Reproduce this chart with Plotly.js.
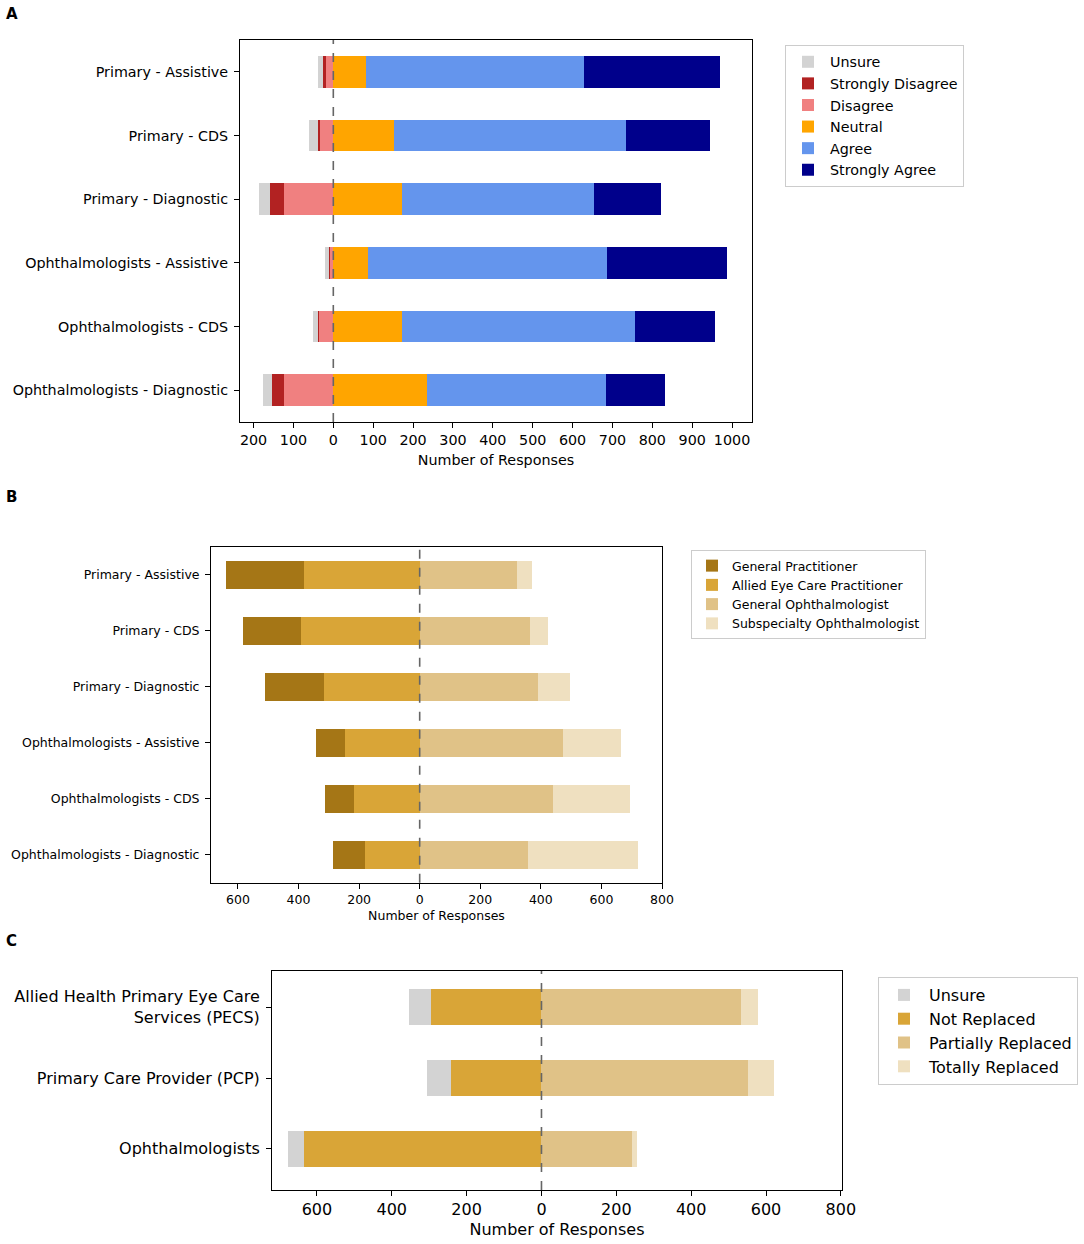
<!DOCTYPE html>
<html>
<head>
<meta charset="utf-8">
<script src="https://cdn.plot.ly/plotly-3.0.1.min.js"></script>
<style>body{margin:0;padding:0;background:#fff}#chart{width:1084px;height:1244px}</style>
</head>
<body>
<div id="chart"></div>
<script>
// ---------- Panel A data ----------
const catsA = ["Primary - Assistive","Primary - CDS","Primary - Diagnostic","Ophthalmologists - Assistive","Ophthalmologists - CDS","Ophthalmologists - Diagnostic"];
const unsureA   = [14, 22, 26, 9, 13, 23];
const strongDisA= [7, 5, 36, 3, 4, 29];
const disagreeA = [18, 33, 124, 8, 35, 124];
const neutralA  = [83, 152, 173, 88, 171, 236];
const agreeA    = [546, 582, 481, 598, 585, 448];
const strongAgA = [340, 210, 167, 301, 200, 147];
const tickValsA = [-200,-100,0,100,200,300,400,500,600,700,800,900,1000];
const tickTextA = ["200","100","0","100","200","300","400","500","600","700","800","900","1000"];

// ---------- Panel B data ----------
const catsB = catsA;
const gpB      = [256, 191, 195, 99, 93, 104];
const alliedB  = [382, 392, 317, 245, 218, 182];
const genOphB  = [320, 365, 389, 473, 441, 358];
const subOphB  = [51, 60, 107, 192, 253, 362];
const tickValsB = [-600,-400,-200,0,200,400,600,800];
const tickTextB = ["600","400","200","0","200","400","600","800"];

// ---------- Panel C data ----------
const catsC = ["Allied Health Primary Eye Care<br>Services (PECS)","Primary Care Provider (PCP)","Ophthalmologists"];
const unsureC   = [59, 65, 43];
const notRepC   = [294, 241, 634];
const partRepC  = [533, 551, 241];
const totRepC   = [45, 70, 13];
const tickValsC = tickValsB;
const tickTextC = tickTextB;

const neg = a => a.map(v => -v);
const font = "DejaVu Sans, sans-serif";

function bar(name, cats, vals, color, xa, ya, legend, rank, negSide) {
  return {
    type: "bar", orientation: "h", name: name,
    y: cats, x: negSide ? neg(vals) : vals,
    customdata: vals,
    marker: {color: color, line: {width: 0}},
    width: 0.5,
    xaxis: xa, yaxis: ya, legend: legend, legendrank: rank,
    hovertemplate: name + ": %{customdata}<extra></extra>"
  };
}

const data = [
  bar("Disagree", catsA, disagreeA, "#f08080", "x", "y", "legend", 3, true),
  bar("Strongly Disagree", catsA, strongDisA, "#b22222", "x", "y", "legend", 2, true),
  bar("Unsure", catsA, unsureA, "#d3d3d3", "x", "y", "legend", 1, true),
  bar("Neutral", catsA, neutralA, "#ffa500", "x", "y", "legend", 4, false),
  bar("Agree", catsA, agreeA, "#6495ed", "x", "y", "legend", 5, false),
  bar("Strongly Agree", catsA, strongAgA, "#00008b", "x", "y", "legend", 6, false),

  bar("Allied Eye Care Practitioner", catsB, alliedB, "#d9a537", "x2", "y2", "legend2", 2, true),
  bar("General Practitioner", catsB, gpB, "#a57616", "x2", "y2", "legend2", 1, true),
  bar("General Ophthalmologist", catsB, genOphB, "#e0c287", "x2", "y2", "legend2", 3, false),
  bar("Subspecialty Ophthalmologist", catsB, subOphB, "#efe0c0", "x2", "y2", "legend2", 4, false),

  bar("Not Replaced", catsC, notRepC, "#d9a537", "x3", "y3", "legend3", 2, true),
  bar("Unsure", catsC, unsureC, "#d3d3d3", "x3", "y3", "legend3", 1, true),
  bar("Partially Replaced", catsC, partRepC, "#e0c287", "x3", "y3", "legend3", 3, false),
  bar("Totally Replaced", catsC, totRepC, "#efe0c0", "x3", "y3", "legend3", 4, false)
];

function xAxis(domain, range, tv, tt, fs, anchor, standoff) {
  return {
    domain: domain, range: range, anchor: anchor,
    tickmode: "array", tickvals: tv, ticktext: tt,
    tickfont: {family: font, size: fs, color: "#000"},
    ticks: "outside", ticklen: 5, tickwidth: 1, tickcolor: "#000",
    showgrid: false, zeroline: false,
    showline: true, mirror: true, linecolor: "#000", linewidth: 1,
    automargin: false,
    title: {text: "Number of Responses", font: {family: font, size: fs, color: "#000"}, standoff: standoff}
  };
}
function yAxis(domain, cats, fs, anchor, range) {
  return {
    domain: domain, type: "category", categoryorder: "array", categoryarray: cats,
    range: range, anchor: anchor,
    tickfont: {family: font, size: fs, color: "#000"},
    ticks: "outside", ticklen: 5, tickwidth: 1, tickcolor: "#000",
    ticklabelstandoff: 3,
    showgrid: false, zeroline: false,
    showline: true, mirror: true, linecolor: "#000", linewidth: 1,
    automargin: false
  };
}
function zeroLine(xref, yref) {
  return {type: "line", xref: xref, yref: yref + " domain", x0: 0, x1: 0, y0: 0, y1: 1,
          line: {color: "#666", width: 1.6, dash: "dash"}, layer: "above"};
}
function legendBox(x, y, fs, iw) {
  return {x: x, y: y, xanchor: "left", yanchor: "top", xref: "paper", yref: "paper",
          bordercolor: "#cccccc", borderwidth: 1, bgcolor: "#fff",
          font: {family: font, size: fs, color: "#000"}, traceorder: "normal",
          itemwidth: iw, tracegroupgap: 0};
}

const layout = {
  width: 1084, height: 1244,
  margin: {l: 0, r: 0, t: 0, b: 0},
  paper_bgcolor: "#fff", plot_bgcolor: "#fff",
  barmode: "relative", bargap: 0,
  font: {family: font, color: "#000"},
  xaxis: xAxis([240/1084, 752/1084], [-234, 1050], tickValsA, tickTextA, 14.3, "y", 7),
  yaxis: yAxis([1-422/1244, 1-40/1244], catsA, 14.3, "x", [5.5, -0.5]),
  xaxis2: xAxis([211/1084, 662/1084], [-689, 800], tickValsB, tickTextB, 12.5, "y2", 5),
  yaxis2: yAxis([1-882.7/1244, 1-547/1244], catsB, 12.5, "x2", [5.5, -0.5]),
  xaxis3: xAxis([272/1084, 842/1084], [-720, 803], tickValsC, tickTextC, 16, "y3", 5),
  yaxis3: yAxis([1-1190/1244, 1-971/1244], catsC, 16, "x3", [2.58, -0.51]),
  legend: legendBox(785/1084, 1-45/1244, 14.3, 34),
  legend2: legendBox(691/1084, 1-550/1244, 12.5, 30),
  legend3: legendBox(878/1084, 1-977/1244, 16, 40),
  shapes: [zeroLine("x", "y"), zeroLine("x2", "y2"), zeroLine("x3", "y3")],
  annotations: [
    {text: "<b>A</b>", x: 4/1084, y: 1-14/1244, xref: "paper", yref: "paper", xanchor: "left", yanchor: "middle", showarrow: false, font: {family: font, size: 15}},
    {text: "<b>B</b>", x: 4/1084, y: 1-497/1244, xref: "paper", yref: "paper", xanchor: "left", yanchor: "middle", showarrow: false, font: {family: font, size: 15}},
    {text: "<b>C</b>", x: 4/1084, y: 1-941/1244, xref: "paper", yref: "paper", xanchor: "left", yanchor: "middle", showarrow: false, font: {family: font, size: 15}}
  ],
  showlegend: true
};

Plotly.newPlot("chart", data, layout, {displayModeBar: false, staticPlot: true});
</script>
</body>
</html>
